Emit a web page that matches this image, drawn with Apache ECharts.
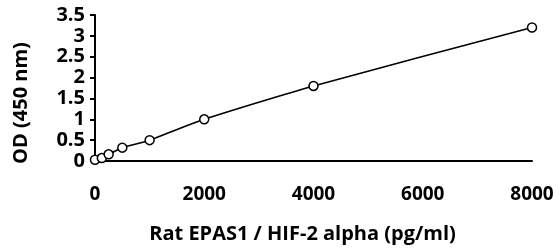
<!DOCTYPE html>
<html>
<head>
<meta charset="utf-8">
<script src="https://cdn.jsdelivr.net/npm/echarts@6/dist/echarts.min.js"></script>
<style>
html,body{margin:0;padding:0;background:#fff;}
#chart{width:560px;height:249px;}
</style>
</head>
<body>
<div id="chart"></div>
<script>
var conc = [0, 125, 250, 500, 1000, 2000, 4000, 8000];
var od = [0.03, 0.07, 0.16, 0.32, 0.5, 1.0, 1.8, 3.2];
var yTicks = ['0', '0.5', '1', '1.5', '2', '2.5', '3', '3.5'];
var xTicks = ['0', '2000', '4000', '6000', '8000'];

var myChart = echarts.init(document.getElementById('chart'));
var font = '"Open Sans", sans-serif';
var option = {
    animation: false,
    grid: {left: 95, right: 28, top: 15, bottom: 88},
    xAxis: {
        type: 'value', min: 0, max: 8000, interval: 2000,
        name: 'Rat EPAS1 / HIF-2 alpha (pg/ml)',
        nameLocation: 'middle', nameGap: 63,
        nameTextStyle: {fontFamily: font, fontWeight: 'bold', fontSize: 20, color: '#000', padding: [0, 22, 0, 0]},
        axisLine: {lineStyle: {color: '#000', width: 2}},
        axisTick: {show: false},
        splitLine: {show: false},
        axisLabel: {
            fontFamily: font, fontWeight: 'bold', fontSize: 19, color: '#000', margin: 24,
            formatter: function (v) { return xTicks[Math.round(v / 2000)]; }
        }
    },
    yAxis: {
        type: 'value', min: 0, max: 3.5, interval: 0.5,
        name: 'OD (450 nm)',
        nameLocation: 'middle', nameGap: 64, nameRotate: 90,
        nameTextStyle: {fontFamily: font, fontWeight: 'bold', fontSize: 20, color: '#000', padding: [0, 30, 0, 0]},
        axisLine: {show: true, lineStyle: {color: '#000', width: 2}},
        axisTick: {show: true, length: 5, lineStyle: {color: '#000', width: 2}},
        splitLine: {show: false},
        axisLabel: {
            fontFamily: font, fontWeight: 'bold', fontSize: 20, color: '#000', margin: 10,
            formatter: function (v) { return yTicks[Math.round(v / 0.5)]; }
        }
    },
    series: [{
        type: 'line',
        data: conc.map(function (c, i) { return [c, od[i]]; }),
        smooth: 0.2,
        symbol: 'circle',
        symbolSize: 9,
        itemStyle: {color: '#fff', borderColor: '#000', borderWidth: 1.5},
        lineStyle: {color: '#000', width: 1.6}
    }]
};
myChart.setOption(option);
</script>
</body>
</html>
